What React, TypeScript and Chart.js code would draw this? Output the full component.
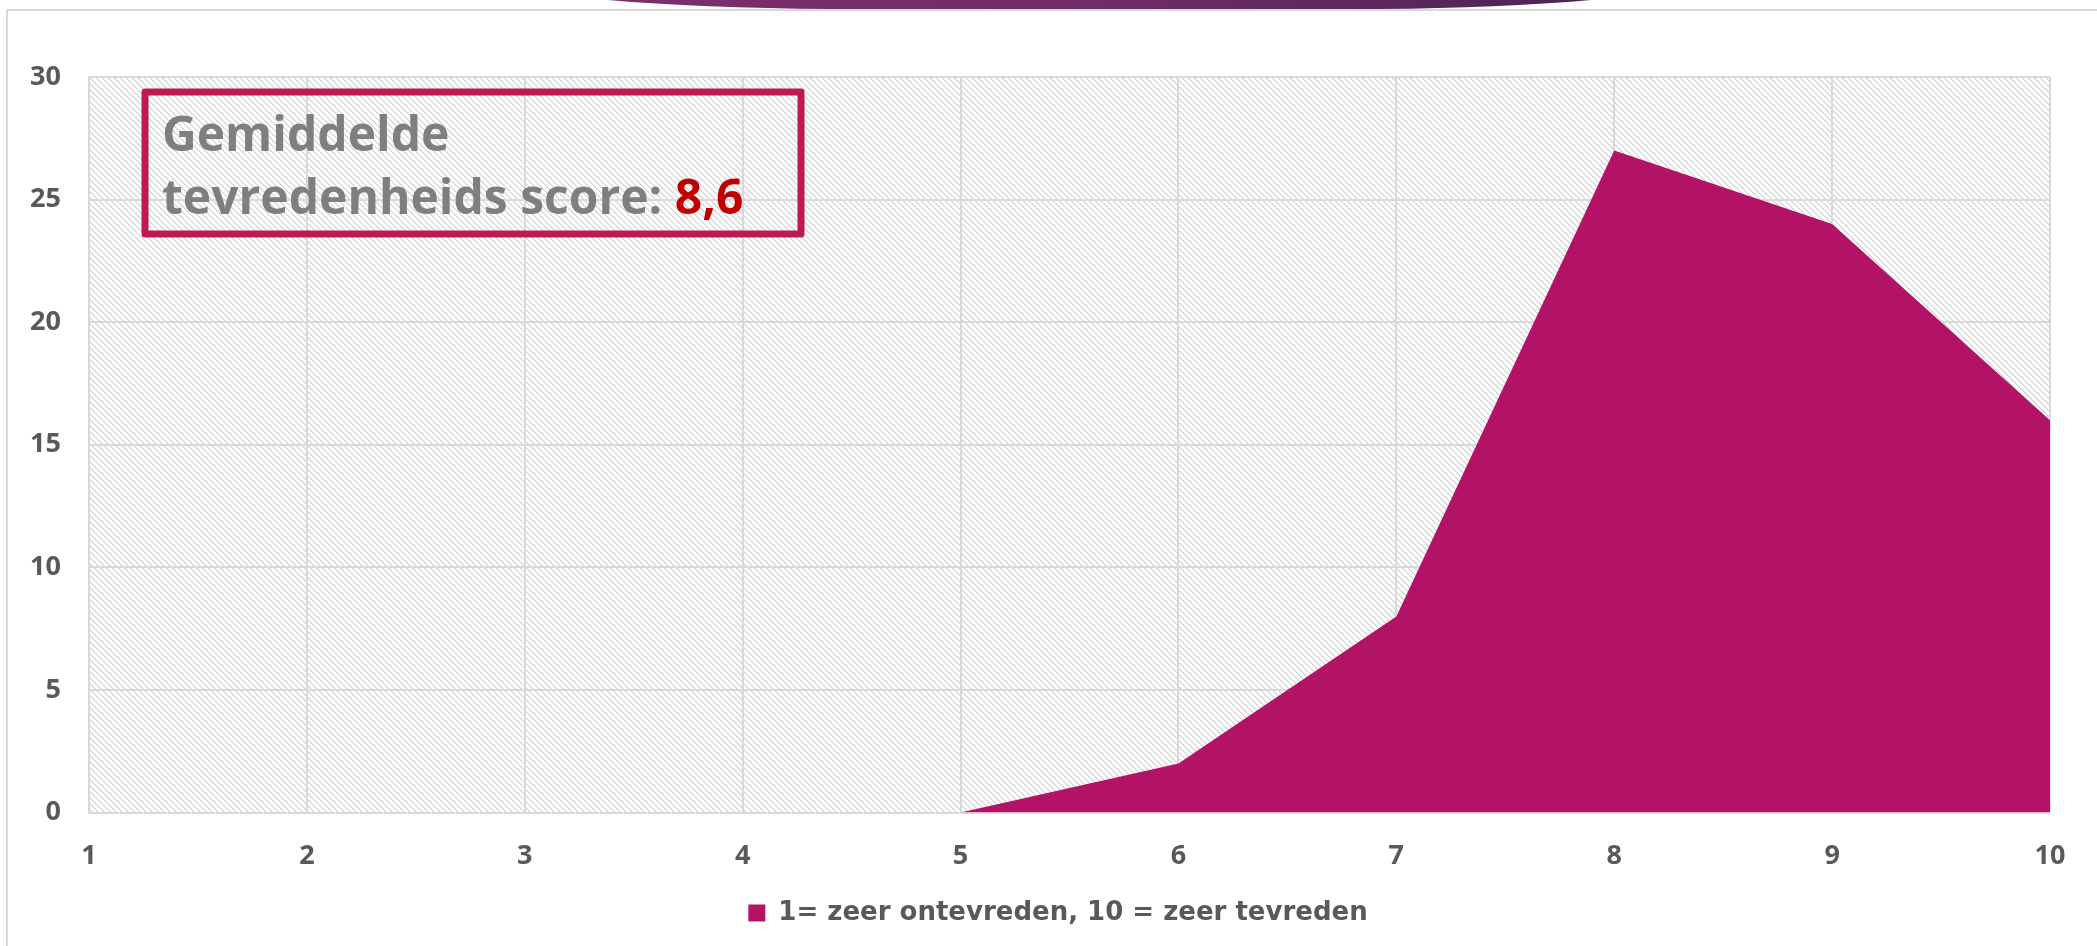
import React, { useEffect, useRef } from "react";
import { Chart, registerables } from "chart.js";

Chart.register(...registerables);

const categories = ["1", "2", "3", "4", "5", "6", "7", "8", "9", "10"];
const scores = [0, 0, 0, 0, 0, 2, 8, 27, 24, 16];
const seriesLabel = "1= zeer ontevreden, 10 = zeer tevreden";
const noteLine1 = "Gemiddelde";
const noteLine2 = "tevredenheids score: ";
const noteValue = "8,6";
const yMin = 0;
const yMax = 30;
const yStep = 5;

const FONT = '"Open Sans", "DejaVu Sans", sans-serif';
const WIDE_FONT = '"DejaVu Sans", "Open Sans", sans-serif';

function makePattern(ctx: CanvasRenderingContext2D) {
  const tile = document.createElement("canvas");
  const n = 6;
  tile.width = n;
  tile.height = n;
  const t = tile.getContext("2d")!;
  t.fillStyle = "#ffffff";
  t.fillRect(0, 0, n, n);
  for (let i = 0; i < n; i++) {
    t.fillStyle = "#cfcfcf";
    t.fillRect(i, i, 1, 1);
    t.fillStyle = "#e8e8e8";
    t.fillRect((i + 1) % n, i, 1, 1);
  }
  return ctx.createPattern(tile, "repeat")!;
}

const decorPlugin = {
  id: "decor",
  afterLayout(chart: any) {
    const lg = chart.legend;
    if (lg) {
      lg.left += 29;
      lg.right += 29;
    }
  },
  beforeDraw(chart: any) {
    const { ctx, chartArea, width } = chart;
    ctx.save();
    // outer frame lines
    ctx.strokeStyle = "#d9d9d9";
    ctx.lineWidth = 2;
    ctx.beginPath();
    ctx.moveTo(7, 946);
    ctx.lineTo(7, 10);
    ctx.lineTo(width, 10);
    ctx.stroke();
    // purple header shape
    const g = ctx.createLinearGradient(608, 0, 1591, 0);
    g.addColorStop(0, "#7b2f70");
    g.addColorStop(0.5, "#6e2c68");
    g.addColorStop(1, "#4d2358");
    ctx.fillStyle = g;
    ctx.beginPath();
    ctx.moveTo(608, 0);
    ctx.quadraticCurveTo(700, 8, 830, 9);
    ctx.lineTo(1380, 9);
    ctx.quadraticCurveTo(1500, 8, 1591, 0);
    ctx.closePath();
    ctx.fill();
    // hatched plot background
    ctx.fillStyle = makePattern(ctx);
    ctx.fillRect(
      chartArea.left,
      chartArea.top,
      chartArea.right - chartArea.left,
      chartArea.bottom - chartArea.top
    );
    ctx.restore();
  },
  afterDraw(chart: any) {
    const { ctx, chartArea } = chart;
    ctx.save();
    const x0 = chartArea.left + 56;
    const y0 = chartArea.top + 15;
    const w = 656;
    const h = 142;
    ctx.strokeStyle = "#be1a4f";
    ctx.lineWidth = 7;
    ctx.lineJoin = "round";
    ctx.strokeRect(x0, y0, w, h);
    ctx.textBaseline = "alphabetic";
    ctx.textAlign = "left";
    ctx.font = `bold 48px ${FONT}`;
    ctx.fillStyle = "#7f7f7f";
    ctx.fillText(noteLine1, x0 + 17, y0 + 59);
    ctx.fillText(noteLine2, x0 + 17, y0 + 122);
    const wl = ctx.measureText(noteLine2).width;
    ctx.fillStyle = "#c00000";
    ctx.fillText(noteValue, x0 + 17 + wl, y0 + 122);
    ctx.restore();
  },
};

export default function App() {
  const ref = useRef<HTMLCanvasElement>(null);
  useEffect(() => {
    const chart = new Chart(ref.current!, {
      type: "line",
      data: {
        labels: categories,
        datasets: [
          {
            label: seriesLabel,
            data: scores,
            fill: "origin",
            backgroundColor: "#b31366",
            borderColor: "#b31366",
            borderWidth: 0,
            pointRadius: 0,
            tension: 0,
          },
        ],
      },
      options: {
        animation: false,
        responsive: false,
        layout: { padding: { left: 8, top: 77, right: 47, bottom: 10 } },
        plugins: {
          tooltip: { enabled: false },
          legend: {
            position: "bottom",
            labels: {
              boxWidth: 17,
              boxHeight: 17,
              color: "#595959",
              font: { family: WIDE_FONT, size: 26, weight: "bold" },
              padding: 10,
            },
          },
        },
        scales: {
          x: {
            offset: false,
            grid: { color: "#d9d9d9", lineWidth: 2, drawTicks: false },
            border: { color: "#d9d9d9", width: 2 },
            ticks: {
              color: "#595959",
              font: { family: FONT, size: 27, weight: "bold" },
              padding: 28,
              maxRotation: 0,
            },
            afterFit(scale: any) {
              scale.height = scale.height - 11;
            },
          },
          y: {
            min: yMin,
            max: yMax,
            grid: { color: "#d9d9d9", lineWidth: 2, drawTicks: false },
            border: { color: "#d9d9d9", width: 2 },
            ticks: {
              stepSize: yStep,
              color: "#595959",
              font: { family: FONT, size: 27, weight: "bold" },
              padding: 28,
            },
            afterFit(scale: any) {
              scale.width = 81;
            },
          },
        },
      },
      plugins: [decorPlugin],
    });
    return () => chart.destroy();
  }, []);
  return (
    <div style={{ position: "fixed", left: 0, top: 0, width: 2097, height: 946, background: "#fff" }}>
      <canvas ref={ref} width={2097} height={946} style={{ width: 2097, height: 946 }} />
    </div>
  );
}
